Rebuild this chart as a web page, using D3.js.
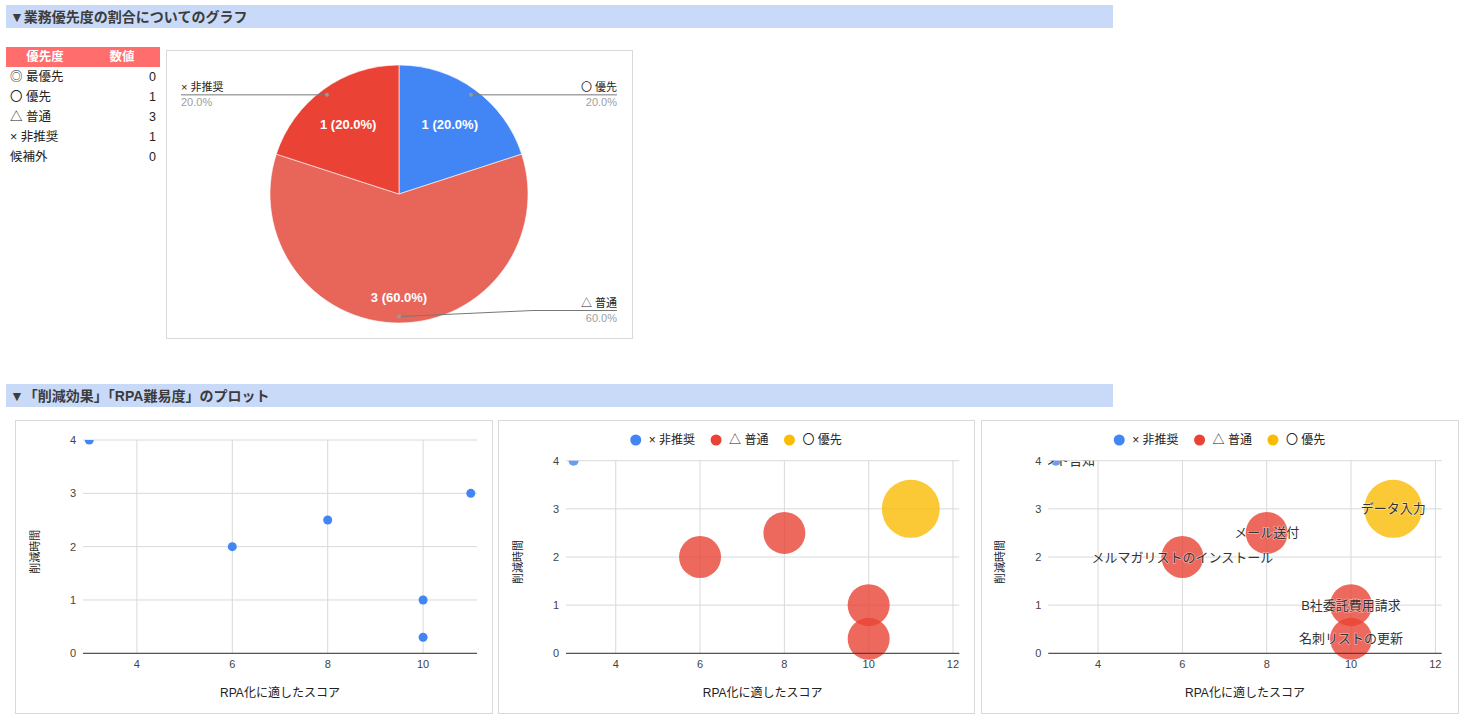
<!DOCTYPE html>
<head>
<meta charset="utf-8">
<style>
body { margin: 0; background: #fff; }
text { font-family: "Liberation Sans", Arial, "Noto Sans CJK JP", sans-serif; }
.grid line { stroke: #d9d9d9; stroke-width: 1px; }
.tick-label { font-size: 11px; fill: #444; }
.axis-title { font-size: 12px; fill: #222; }
</style>
<script src="https://cdn.jsdelivr.net/npm/d3@7"></script>
</head>
<body>
<svg id="page" width="1467" height="727"></svg>
<script>

// Priority table / pie data
var priorityLabels = ["◎ 最優先", "〇 優先", "△ 普通", "× 非推奨", "候補外"];
var priorityCounts = [0, 1, 3, 1, 0];
var pieOrder = ["〇 優先", "△ 普通", "× 非推奨"];
var pieColors = ["#4285f4", "#e8655a", "#ea4335"];

// Task plot data
var taskNames = ["イベント告知", "メルマガリストのインストール", "メール送付", "B社委託費用請求", "名刺リストの更新", "データ入力"];
var taskScores = [3, 6, 8, 10, 10, 11];
var taskHours = [4, 2, 2.5, 1, 0.3, 3];
var taskRanks = ["× 非推奨", "△ 普通", "△ 普通", "△ 普通", "△ 普通", "〇 優先"];
var taskSizes = [1, 3, 3, 3, 3, 4];
var seriesNames = ["× 非推奨", "△ 普通", "〇 優先"];
var seriesColors = ["#4285f4", "#ea4335", "#fbbc04"];

var svg = d3.select("#page");

/**
 * Blue section header band.
 */
function drawHeader(y, title) {
  svg.append("rect").attr("x", 6).attr("y", y).attr("width", 1107).attr("height", 23)
    .attr("fill", "#c9daf8");
  svg.append("text").attr("x", 10).attr("y", y + 12).attr("dy", "0.35em")
    .attr("font-size", 14).attr("font-weight", "bold").attr("fill", "#3c3c3c")
    .text(title);
}

/**
 * The small table with counts per priority.
 */
function drawTable() {
  svg.append("rect").attr("x", 6).attr("y", 47).attr("width", 154).attr("height", 20)
    .attr("fill", "#ff6d6d");
  svg.append("text").attr("x", 45).attr("y", 57).attr("dy", "0.35em").attr("text-anchor", "middle")
    .attr("font-size", 12.5).attr("font-weight", "bold").attr("fill", "#fff").text("優先度");
  svg.append("text").attr("x", 122).attr("y", 57).attr("dy", "0.35em").attr("text-anchor", "middle")
    .attr("font-size", 12.5).attr("font-weight", "bold").attr("fill", "#fff").text("数値");
  var rows = svg.append("g").selectAll("g").data(priorityLabels).join("g")
    .attr("transform", function(d, i) { return "translate(0," + (77 + i * 19.8) + ")"; });
  rows.append("text").attr("x", 10).attr("dy", "0.35em").attr("font-size", 12.5).attr("fill", "#222")
    .text(function(d) { return d; });
  rows.append("text").attr("x", 156).attr("dy", "0.35em").attr("text-anchor", "end")
    .attr("font-size", 12.5).attr("fill", "#222")
    .text(function(d, i) { return priorityCounts[i]; });
}

/**
 * Pie chart of the priority shares, with leader labels.
 */
function drawPie() {
  var box = {x: 166.5, y: 50.5, w: 466, h: 288};
  svg.append("rect").attr("x", box.x).attr("y", box.y).attr("width", box.w).attr("height", box.h)
    .attr("fill", "#fff").attr("stroke", "#d9d9d9");
  var cx = 399, cy = 194, r = 129;
  var data = pieOrder.map(function(name, i) {
    return {name: name, value: priorityCounts[priorityLabels.indexOf(name)], color: pieColors[i]};
  });
  var total = d3.sum(data, function(d) { return d.value; });
  var pie = d3.pie().sort(null).value(function(d) { return d.value; });
  var arc = d3.arc().innerRadius(0).outerRadius(r);
  var g = svg.append("g").attr("transform", "translate(" + cx + "," + cy + ")");
  var arcs = pie(data);
  g.selectAll("path").data(arcs).join("path")
    .attr("d", arc).attr("fill", function(d) { return d.data.color; })
    .attr("stroke", "#fff").attr("stroke-width", 0.6);
  // Values inside slices.
  g.selectAll("text.inner").data(arcs).join("text").attr("class", "inner")
    .attr("transform", function(d) {
      var share = d.data.value / total;
      var lr = share > 0.5 ? r * 0.8 : r * 0.67;
      var c = d3.arc().innerRadius(lr).outerRadius(lr).centroid(d);
      return "translate(" + c + ")";
    })
    .attr("text-anchor", "middle").attr("dy", "0.35em")
    .attr("font-size", 13).attr("font-weight", "bold").attr("fill", "#fff")
    .text(function(d) { return d.data.value + " (" + (d.data.value / total * 100).toFixed(1) + "%)"; });
  // Leader lines and outside labels.
  var dotArc = d3.arc().innerRadius(r * 0.95).outerRadius(r * 0.95);
  var leftX = 181 - cx, rightX = 617 - cx, maxY = box.y + box.h - 28 - cy;
  arcs.forEach(function(d) {
    var p = dotArc.centroid(d);
    var mid = (d.startAngle + d.endAngle) / 2;
    var right = mid <= Math.PI;
    var ly = Math.min(p[1], maxY);
    var ex = right ? rightX : leftX;
    var kx = ly === p[1] ? p[0] : p[0] + 134;
    g.append("polyline")
      .attr("points", [p, [kx, ly], [ex, ly]].map(function(q) { return q.join(","); }).join(" "))
      .attr("fill", "none").attr("stroke", "#777").attr("stroke-width", 1);
    g.append("circle").attr("cx", p[0]).attr("cy", p[1]).attr("r", 2).attr("fill", "#999");
    g.append("text").attr("x", ex).attr("y", ly - 4).attr("text-anchor", right ? "end" : "start")
      .attr("font-size", 11).attr("fill", "#222").text(d.data.name);
    g.append("text").attr("x", ex).attr("y", ly + 11).attr("text-anchor", right ? "end" : "start")
      .attr("font-size", 11).attr("fill", "#9e9e9e")
      .text((d.data.value / total * 100).toFixed(1) + "%");
  });
}

/**
 * Scatter / bubble chart of score vs. saved time.
 */
function drawPlot(cfg, idx) {
  svg.append("rect").attr("x", cfg.box[0] + 0.5).attr("y", cfg.box[1] + 0.5)
    .attr("width", cfg.box[2]).attr("height", cfg.box[3])
    .attr("fill", "#fff").attr("stroke", "#d9d9d9");
  var x = d3.scaleLinear().domain(cfg.xDomain).range([cfg.left, cfg.right]);
  var y = d3.scaleLinear().domain([0, 4]).range([cfg.bottom, cfg.top]);
  var rScale = d3.scaleLinear().domain(d3.extent(taskSizes)).range([5, 29]);
  var color = d3.scaleOrdinal().domain(seriesNames).range(seriesColors);

  var grid = svg.append("g").attr("class", "grid");
  grid.selectAll("line.v").data(x.ticks(5)).join("line").attr("class", "v")
    .attr("x1", function(d) { return x(d); }).attr("x2", function(d) { return x(d); })
    .attr("y1", cfg.top).attr("y2", cfg.bottom);
  grid.selectAll("line.h").data(y.ticks(4)).join("line").attr("class", "h")
    .attr("x1", cfg.left).attr("x2", cfg.right)
    .attr("y1", function(d) { return y(d); }).attr("y2", function(d) { return y(d); });

  svg.append("g").selectAll("text").data(x.ticks(5)).join("text").attr("class", "tick-label")
    .attr("x", function(d) { return x(d); }).attr("y", cfg.bottom + 11).attr("dy", "0.35em")
    .attr("text-anchor", "middle").text(function(d) { return d; });
  svg.append("g").selectAll("text").data(y.ticks(4)).join("text").attr("class", "tick-label")
    .attr("x", cfg.left - 7).attr("y", function(d) { return y(d); }).attr("dy", "0.35em")
    .attr("text-anchor", "end").text(function(d) { return d; });

  svg.append("text").attr("class", "axis-title").attr("text-anchor", "middle")
    .attr("x", (cfg.left + cfg.right) / 2).attr("y", cfg.bottom + 39).attr("dy", "0.35em")
    .text("RPA化に適したスコア");
  svg.append("text").attr("class", "axis-title").attr("text-anchor", "middle")
    .attr("transform", "translate(" + (cfg.left - 48) + "," + ((cfg.top + cfg.bottom) / 2 + 5) + ") rotate(-90)")
    .attr("dy", "0.35em").style("font-size", "11px").text("削減時間");

  // Plot area clip: marks and labels are cut at its edges.
  var clipId = "clip" + idx;
  svg.append("clipPath").attr("id", clipId).append("rect")
    .attr("x", cfg.left).attr("y", cfg.top).attr("width", cfg.right - cfg.left)
    .attr("height", cfg.bottom - cfg.top + 40);
  var plot = svg.append("g").attr("clip-path", "url(#" + clipId + ")");
  var idxs = d3.range(taskNames.length);
  plot.selectAll("circle").data(idxs).join("circle")
    .attr("cx", function(i) { return x(taskScores[i]); })
    .attr("cy", function(i) { return y(taskHours[i]); })
    .attr("r", function(i) { return cfg.bubble ? rScale(taskSizes[i]) : 4.5; })
    .attr("fill", function(i) { return cfg.bubble ? color(taskRanks[i]) : "#4285f4"; })
    .attr("fill-opacity", cfg.bubble ? 0.8 : 1);

  svg.append("line").attr("x1", cfg.left).attr("x2", cfg.right)
    .attr("y1", y(0)).attr("y2", y(0)).attr("stroke", "#333").attr("stroke-width", 1);

  if (cfg.labels) {
    svg.append("g").attr("clip-path", "url(#" + clipId + ")")
      .selectAll("text").data(idxs).join("text")
      .attr("x", function(i) { return x(taskScores[i]); })
      .attr("y", function(i) { return y(taskHours[i]); })
      .attr("dy", "0.35em").attr("text-anchor", "middle")
      .attr("font-size", 13).attr("fill", "#333")
      .attr("stroke", "#fff").attr("stroke-width", 1.5).attr("stroke-opacity", 0.45)
      .attr("paint-order", "stroke")
      .text(function(i) { return taskNames[i]; });
  }

  if (cfg.legend) {
    var lg = svg.append("g");
    var items = lg.selectAll("g").data(seriesNames).join("g");
    items.append("circle").attr("r", 5.5).attr("fill", function(d) { return color(d); });
    items.append("text").attr("x", 13).attr("dy", "0.35em").attr("font-size", 12).attr("fill", "#222")
      .text(function(d) { return d; });
    var pos = 0;
    items.each(function() {
      d3.select(this).attr("transform", "translate(" + pos + ",0)");
      pos += 13 + d3.select(this).select("text").node().getComputedTextLength() + 21;
    });
    var width = pos - 21 + 5.5;
    lg.attr("transform", "translate(" + (cfg.box[0] + cfg.box[2] / 2 - width / 2 + 5.5) + "," + 440 + ")");
  }
}

drawHeader(5, "▼業務優先度の割合についてのグラフ");
drawTable();
drawPie();
drawHeader(384, "▼「削減効果」「RPA難易度」のプロット");

var plots = [
  {box: [15, 420, 477, 293], left: 83, right: 477, top: 440, bottom: 653.3, xDomain: [2.87, 11.13], bubble: false, legend: false, labels: false},
  {box: [498, 420, 476, 293], left: 566, right: 959.3, top: 460.7, bottom: 653.3, xDomain: [2.82, 12.15], bubble: true, legend: true, labels: false},
  {box: [981, 420, 477, 293], left: 1048.3, right: 1441.7, top: 460.7, bottom: 653.3, xDomain: [2.82, 12.15], bubble: true, legend: true, labels: true}
];
plots.forEach(drawPlot);

</script>
</body>
